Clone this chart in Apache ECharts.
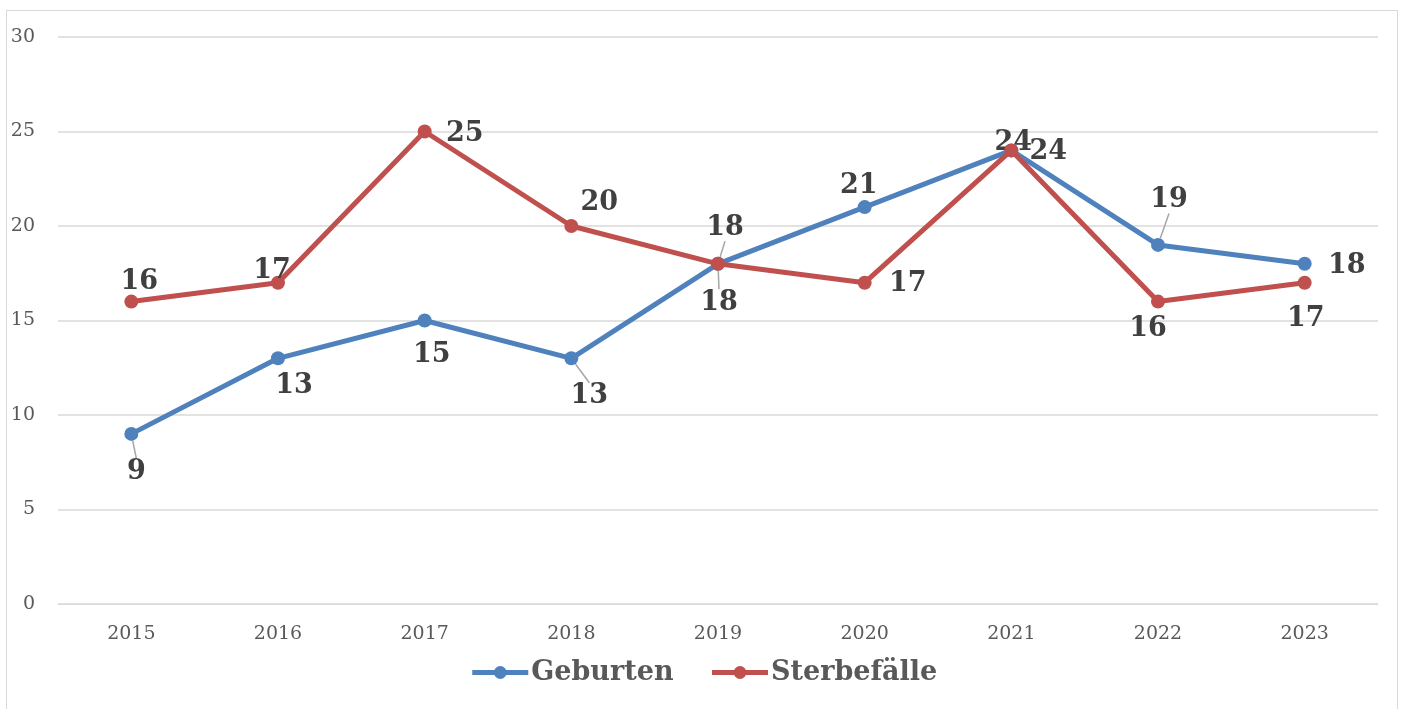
<!DOCTYPE html>
<html>
<head>
<meta charset="utf-8">
<script src="https://cdn.jsdelivr.net/npm/echarts@6/dist/echarts.min.js"></script>
<style>
  html, body { margin: 0; padding: 0; background: #fff; }
  #frame { position: absolute; left: 6px; top: 10px; width: 1392px; height: 720px; border: 1px solid #d9d9d9; box-sizing: border-box; }
  #chart { position: absolute; left: 0; top: 0; width: 1407px; height: 709px; }
</style>
</head>
<body>
<div id="frame"></div>
<div id="chart"></div>
<script>
const years = ['2015', '2016', '2017', '2018', '2019', '2020', '2021', '2022', '2023']
const geburten = [9, 13, 15, 13, 18, 21, 24, 19, 18]
const sterbefaelle = [16, 17, 25, 20, 18, 17, 24, 16, 17]
const yTicks = [0, 5, 10, 15, 20, 25, 30]

// label placement relative to each point, per series (dx, dy in px)
const blueLabelShift = [[5, 38], [16, 28], [7, 34], [18, 38], [7, -36], [-6, -21], [2, -7], [11, -45], [42, 2]]
const redLabelShift = [[8, -20], [-6, -12], [40, 2], [28, -23], [1, 39], [43, 1], [37, 2], [-10, 27], [1, 36]]
const blueLeader = [true, false, false, true, true, false, false, true, false]
const redLeader = [false, false, false, false, true, false, false, false, false]

const serif = '"DejaVu Serif", serif'
const chart = echarts.init(document.getElementById('chart'))

function series(name, values, color, shifts, leaders) {
  return {
    name,
    type: 'line',
    data: values.map((v, i) => ({
      value: v,
      labelLine: { show: leaders[i], lineStyle: { color: '#a6a6a6', width: 1.5 } }
    })),
    symbol: 'circle',
    symbolSize: 14,
    lineStyle: { color, width: 5 },
    itemStyle: { color },
    label: {
      show: true,
      position: 'inside',
      fontFamily: serif,
      fontWeight: 'bold',
      fontSize: 27,
      color: '#404040'
    },
    labelLayout: (p) => ({ dx: shifts[p.dataIndex][0], dy: shifts[p.dataIndex][1] }),
    z: name === 'Geburten' ? 2 : 3
  }
}

chart.setOption({
  animation: false,
  backgroundColor: 'transparent',
  color: ['#4f81bd', '#c0504d'],
  grid: { left: 58, right: 29, top: 37, bottom: 105 },
  xAxis: {
    type: 'category',
    data: years,
    boundaryGap: true,
    axisLine: { lineStyle: { color: '#d9d9d9', width: 1 } },
    axisTick: { show: false },
    axisLabel: { color: '#595959', fontFamily: serif, fontSize: 19, margin: 21 }
  },
  yAxis: {
    type: 'value',
    min: yTicks[0],
    max: yTicks[yTicks.length - 1],
    interval: yTicks[1] - yTicks[0],
    axisLine: { show: false },
    axisTick: { show: false },
    splitLine: { lineStyle: { color: '#d9d9d9', width: 1.5 } },
    axisLabel: { color: '#595959', fontFamily: serif, fontSize: 19, margin: 23 }
  },
  legend: {
    bottom: 18,
    left: 'center',
    itemWidth: 56,
    itemHeight: 16,
    itemGap: 36,
    lineStyle: { width: 5 },
    textStyle: { color: '#595959', fontFamily: serif, fontWeight: 'bold', fontSize: 27, padding: [0, 0, 0, -2] },
    data: ['Geburten', 'Sterbefälle']
  },
  series: [
    series('Geburten', geburten, '#4f81bd', blueLabelShift, blueLeader),
    series('Sterbefälle', sterbefaelle, '#c0504d', redLabelShift, redLeader)
  ]
})
</script>
</body>
</html>
